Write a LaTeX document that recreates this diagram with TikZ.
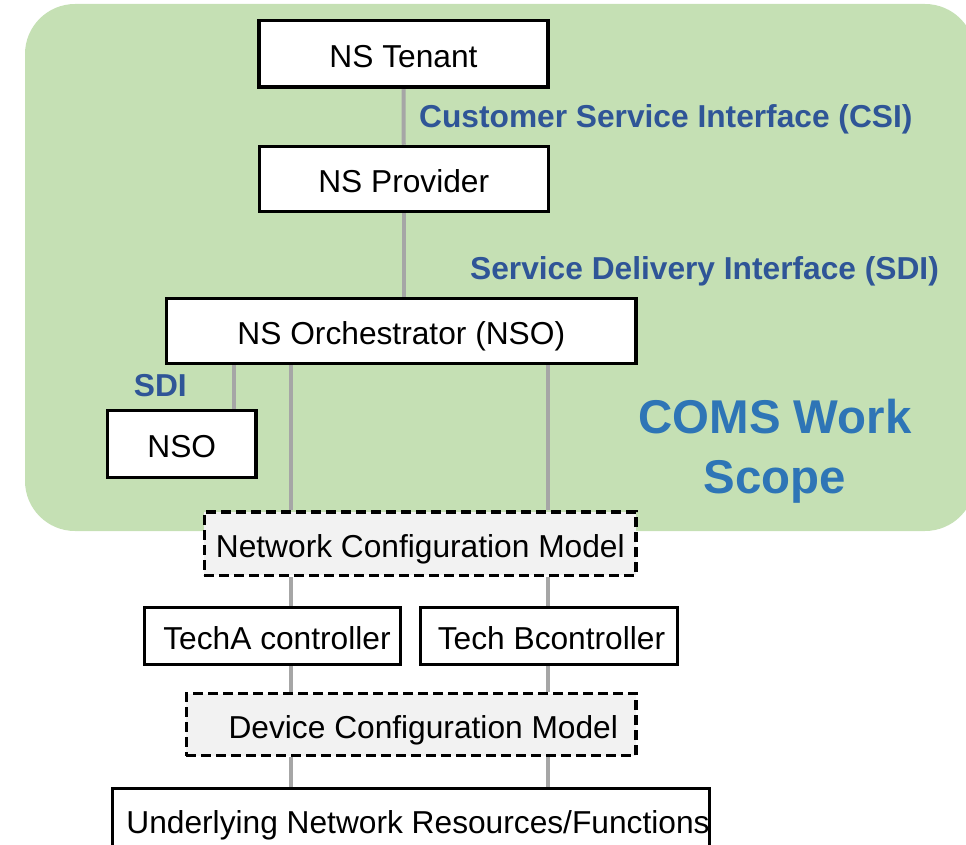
\documentclass[tikz,border=0pt]{standalone}
\usepackage{fontspec}
\setmainfont{Liberation Sans}
\definecolor{scopegreen}{RGB}{197,224,180}
\definecolor{conngray}{RGB}{166,166,166}
\definecolor{modelgray}{RGB}{242,242,242}
\definecolor{lblblue}{RGB}{47,85,151}
\definecolor{comsblue}{RGB}{46,117,182}
\pgfdeclarelayer{bg}
\pgfdeclarelayer{lines}
\pgfsetlayers{bg,lines,main}
\begin{document}
\begin{tikzpicture}[x=1pt,y=-1pt,
  box/.style={draw=black, line width=3.5pt, fill=white, inner sep=0pt,
    font=\fontsize{31.7}{38}\selectfont, text height=27.3pt, text depth=0pt},
  dbox/.style={box, dash pattern=on 10pt off 5pt, fill=modelgray},
  conn/.style={draw=conngray, line width=4pt},
  lbl/.style={font=\bfseries\fontsize{31.7}{38}\selectfont, text=lblblue, inner sep=0pt,
    text height=22.7pt, text depth=0pt},
  scopebox/.style={fill=scopegreen, rounded corners=50pt, inner sep=0pt}]
\useasboundingbox (0,0) rectangle (966,845);
\clip (0,0) rectangle (966,845);
\begin{pgfonlayer}{bg}
\node[scopebox, minimum width=950pt, minimum height=527pt] (scope) at (500,267.5) {};
\end{pgfonlayer}
\node[box, minimum width=289pt, minimum height=66.5pt] (tenant) at (403.5,54) {NS Tenant};
\node[box, minimum width=289pt, minimum height=65pt] (provider) at (403.75,179) {NS Provider};
\node[box, minimum width=469.7pt, minimum height=65pt] (orch) at (401.3,331) {NS Orchestrator (NSO)};
\node[box, minimum width=148.5pt, minimum height=67pt] (nso) at (181.75,444) {NSO};
\node[dbox, minimum width=431.7pt, minimum height=63.3pt] (ncm) at (420.3,543.8) {Network Configuration Model};
\node[box, minimum width=256pt, minimum height=57pt] (techa) at (272.5,636) {\hspace*{9pt}TechA controller};
\node[box, minimum width=257pt, minimum height=57pt] (techb) at (549,636) {\hspace*{5pt}Tech Bcontroller};
\node[dbox, minimum width=449.7pt, minimum height=62pt] (dcm) at (411.3,724.5) {\hspace*{24pt}Device Configuration Model};
\node[box, minimum width=595pt, minimum height=62pt] (under) at (411,819.5) {\hspace*{14pt}Underlying Network Resources/Functions};

\node[lbl, anchor=west] (csi) at (419,116) {Customer Service Interface (CSI)};
\node[lbl, anchor=west] (sdi) at (470,268) {Service Delivery Interface (SDI)};
\node[lbl, anchor=west] (sdismall) at (133.7,385.5) {SDI};
\node[font=\bfseries\fontsize{47.4}{60}\selectfont, text=comsblue, align=center, inner sep=0pt] (coms) at (775,451) {COMS Work\\Scope};

\coordinate (xa) at (291.4,0);
\coordinate (xb) at (548.4,0);
\coordinate (xc) at (234,0);
\begin{pgfonlayer}{lines}
\draw[conn] (tenant.south) -- (provider.north);
\draw[conn] (provider.south) -- (provider.south |- orch.north);
\draw[conn] (orch.south -| xc) -- (nso.north -| xc);
\draw[conn] (orch.south -| xa) -- (ncm.north -| xa);
\draw[conn] (orch.south -| xb) -- (ncm.north -| xb);
\draw[conn] (ncm.south -| xa) -- (techa.north -| xa);
\draw[conn] (ncm.south -| xb) -- (techb.north -| xb);
\draw[conn] (techa.south -| xa) -- (dcm.north -| xa);
\draw[conn] (techb.south -| xb) -- (dcm.north -| xb);
\draw[conn] (dcm.south -| xa) -- (under.north -| xa);
\draw[conn] (dcm.south -| xb) -- (under.north -| xb);
\end{pgfonlayer}
\end{tikzpicture}
\end{document}
